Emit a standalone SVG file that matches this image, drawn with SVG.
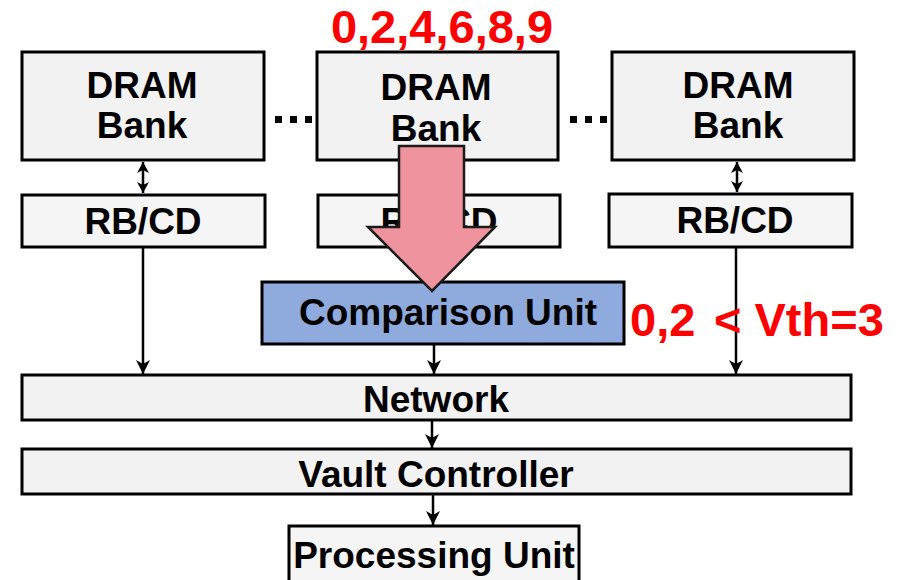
<svg xmlns="http://www.w3.org/2000/svg" width="907" height="580" viewBox="0 0 907 580">
  <style>
    .box { fill: #F2F2F2; stroke: #000; stroke-width: 3; }
    .rb { fill: #F5F5F5; stroke: #000; stroke-width: 3; }
    .lbl { font-family: "Liberation Sans", Arial, sans-serif; font-weight: bold; font-size: 37px; fill: #000; text-anchor: middle; }
    .red { font-family: "Liberation Sans", Arial, sans-serif; font-weight: bold; font-size: 47px; fill: #FF0000; }
    .wire { stroke: #000; stroke-width: 2.5; fill: none; }
    .dot { fill: #000; }
  </style>
  <defs>
    <marker id="head" markerUnits="userSpaceOnUse" markerWidth="16" markerHeight="16" refX="14" refY="7" orient="auto">
      <path d="M0,0 L14,7 L0,14 L4,7 z" fill="#000"/>
    </marker>
    <marker id="headS" markerUnits="userSpaceOnUse" markerWidth="14" markerHeight="14" refX="11" refY="6" orient="auto-start-reverse">
      <path d="M0,0 L11,6 L0,12 L3,6 z" fill="#000"/>
    </marker>
  </defs>

  <!-- DRAM banks -->
  <g id="bank-left">
    <rect class="box" x="22" y="52" width="242" height="108"/>
    <text class="lbl" x="142" y="98">DRAM</text>
    <text class="lbl" x="142" y="138">Bank</text>
  </g>
  <g id="bank-mid">
    <rect class="box" x="317" y="52" width="241" height="108"/>
    <text class="lbl" x="436" y="100">DRAM</text>
    <text class="lbl" x="436" y="141">Bank</text>
  </g>
  <g id="bank-right">
    <rect class="box" x="612" y="52" width="242" height="108"/>
    <text class="lbl" x="738" y="98">DRAM</text>
    <text class="lbl" x="738" y="138">Bank</text>
  </g>

  <!-- ellipsis dots between banks -->
  <g id="ellipsis">
    <rect class="dot" x="275" y="116" width="7" height="7"/>
    <rect class="dot" x="290" y="116" width="7" height="7"/>
    <rect class="dot" x="305" y="116" width="7" height="7"/>
    <rect class="dot" x="570" y="116" width="7" height="7"/>
    <rect class="dot" x="585" y="116" width="7" height="7"/>
    <rect class="dot" x="600" y="116" width="7" height="7"/>
  </g>

  <!-- row buffers / comparators -->
  <g id="rbcd-left">
    <rect class="rb" x="22" y="195" width="243" height="52"/>
    <text class="lbl" x="143" y="234">RB/CD</text>
  </g>
  <g id="rbcd-mid">
    <rect class="rb" x="318" y="195" width="242" height="52"/>
    <text class="lbl" x="439" y="234">RB/CD</text>
  </g>
  <g id="rbcd-right">
    <rect class="rb" x="609" y="194" width="243" height="53"/>
    <text class="lbl" x="735" y="233">RB/CD</text>
  </g>

  <g id="comparison-unit">
    <rect x="262" y="282" width="362" height="62" fill="#8FAADC" stroke="#000" stroke-width="3"/>
    <text class="lbl" x="448" y="325">Comparison Unit</text>
  </g>

  <g id="network">
    <rect class="box" x="22" y="375" width="829" height="45"/>
    <text class="lbl" x="436" y="412">Network</text>
  </g>

  <g id="vault-controller">
    <rect class="box" x="22" y="449" width="829" height="45"/>
    <text class="lbl" x="436" y="487">Vault Controller</text>
  </g>

  <g id="processing-unit">
    <rect class="rb" x="289" y="526" width="290" height="60"/>
    <text class="lbl" x="434" y="568">Processing Unit</text>
  </g>

  <!-- connectors -->
  <g id="connectors">
    <line class="wire" x1="143" y1="162" x2="143" y2="193" marker-start="url(#headS)" marker-end="url(#headS)"/>
    <line class="wire" x1="737" y1="162" x2="737" y2="192" marker-start="url(#headS)" marker-end="url(#headS)"/>
    <line class="wire" x1="143" y1="248" x2="143" y2="374" marker-end="url(#head)"/>
    <line class="wire" x1="736" y1="248" x2="736" y2="374" marker-end="url(#head)"/>
    <line class="wire" x1="434" y1="345" x2="434" y2="374" marker-end="url(#head)"/>
    <line class="wire" x1="432" y1="421" x2="432" y2="448" marker-end="url(#head)"/>
    <line class="wire" x1="433" y1="495" x2="433" y2="525" marker-end="url(#head)"/>
  </g>

  <!-- data flow arrow from the bank into the comparison unit -->
  <g id="flow-arrow">
    <polygon points="399,146 464,146 464,227 495,227 432,291 368,227 399,227" fill="#EF949E" stroke="#1a1a1a" stroke-width="2.5" stroke-linejoin="miter"/>
  </g>

  <!-- annotations -->
  <g id="annotations">
    <text class="red" x="442" y="43" text-anchor="middle">0,2,4,6,8,9</text>
    <text class="red" x="630" y="336">0,2<tspan x="714">&lt; Vth=3</tspan></text>
  </g>
</svg>
